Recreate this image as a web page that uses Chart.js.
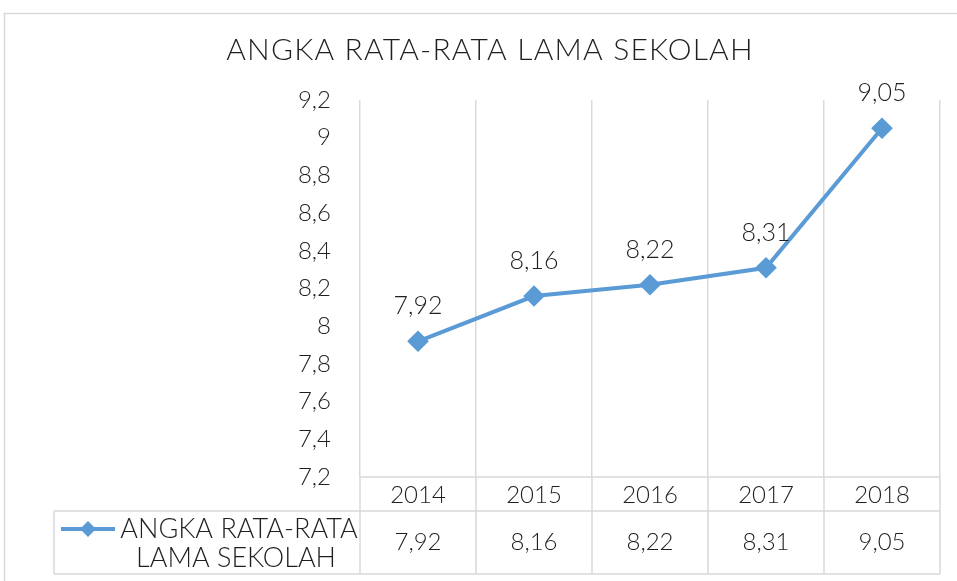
<!DOCTYPE html>
<html>
<head>
<meta charset="utf-8">
<script src="https://cdn.jsdelivr.net/npm/chart.js@4"></script>
<style>
  html, body { margin: 0; padding: 0; background: #fff; }
  #wrap { width: 957px; height: 581px; }
</style>
</head>
<body>
<div id="wrap"><canvas id="lineChart" width="957" height="581"></canvas></div>
<script>
// angka rata-rata lama sekolah
let years = ['2014', '2015', '2016', '2017', '2018'];
let values = [7.92, 8.16, 8.22, 8.31, 9.05];
let seriesName = 'ANGKA RATA-RATA LAMA SEKOLAH';
let legendLines = ['ANGKA RATA-RATA', 'LAMA SEKOLAH'];

let fontFamily = 'Lato, "Open Sans", sans-serif';
let textColor = '#1f1f1f';
let lineColor = '#5b9bd5';
let gridColor = '#d9d9d9';

let comma = function (v, digits) {
    return v.toFixed(digits).replace('.', ',');
};

let tickText = function (v) {
    let s = (Math.round(v * 10) / 10).toString();
    return s.replace('.', ',');
};

// kotak luar + judul
let frame = {
    id: 'frame',
    beforeDraw: function (chart) {
        let ctx = chart.ctx;
        ctx.save();
        ctx.fillStyle = '#fff';
        ctx.fillRect(0, 0, chart.width, chart.height);
        ctx.strokeStyle = gridColor;
        ctx.lineWidth = 1.5;
        ctx.strokeRect(4.5, 13.5, chart.width + 10, chart.height + 10);

        ctx.font = '300 30px ' + fontFamily;
        ctx.letterSpacing = '1.2px';
        ctx.fillStyle = textColor;
        ctx.textAlign = 'center';
        ctx.textBaseline = 'middle';
        ctx.fillText(seriesName, 490, 50);
        ctx.restore();
    }
};

// label nilai di atas titik
let pointLabels = {
    id: 'pointLabels',
    afterDatasetsDraw: function (chart) {
        let ctx = chart.ctx;
        let meta = chart.getDatasetMeta(0);
        ctx.save();
        ctx.font = '300 25px ' + fontFamily;
        ctx.fillStyle = textColor;
        ctx.textAlign = 'center';
        ctx.textBaseline = 'middle';
        meta.data.forEach(function (pt, i) {
            ctx.fillText(comma(values[i], 2), pt.x, pt.y - 35);
        });
        ctx.restore();
    }
};

// tabel data di bawah grafik
let dataTable = {
    id: 'dataTable',
    afterDraw: function (chart) {
        let ctx = chart.ctx;
        let x = chart.scales.x;
        let area = chart.chartArea;
        let row1 = area.bottom + 34;
        let row2 = area.bottom + 97;
        let half = (x.getPixelForValue(1) - x.getPixelForValue(0)) / 2;
        let tableLeft = 54;

        ctx.save();
        ctx.strokeStyle = gridColor;
        ctx.lineWidth = 1.5;
        ctx.beginPath();
        for (let i = 0; i <= years.length; i++) {
            let gx = x.getPixelForValue(0) - half + i * half * 2;
            ctx.moveTo(gx, area.bottom);
            ctx.lineTo(gx, row2);
        }
        ctx.moveTo(area.left, area.bottom);
        ctx.lineTo(area.right, area.bottom);
        ctx.moveTo(tableLeft, row1);
        ctx.lineTo(area.right, row1);
        ctx.moveTo(tableLeft, row2);
        ctx.lineTo(area.right, row2);
        ctx.moveTo(tableLeft, row1);
        ctx.lineTo(tableLeft, row2);
        ctx.stroke();

        ctx.font = '300 24px ' + fontFamily;
        ctx.fillStyle = textColor;
        ctx.textAlign = 'center';
        ctx.textBaseline = 'middle';
        years.forEach(function (y, i) {
            let cx = x.getPixelForValue(i);
            ctx.fillText(y, cx, (area.bottom + row1) / 2 + 1);
            ctx.fillText(comma(values[i], 2), cx, (row1 + row2) / 2);
        });

        // legenda
        let ly = row1 + 18;
        ctx.strokeStyle = lineColor;
        ctx.lineWidth = 4;
        ctx.beginPath();
        ctx.moveTo(61, ly);
        ctx.lineTo(115, ly);
        ctx.stroke();
        ctx.fillStyle = lineColor;
        ctx.beginPath();
        ctx.moveTo(88, ly - 8);
        ctx.lineTo(96, ly);
        ctx.lineTo(88, ly + 8);
        ctx.lineTo(80, ly);
        ctx.closePath();
        ctx.fill();
        ctx.font = '300 27px ' + fontFamily;
        ctx.fillStyle = textColor;
        ctx.fillText(legendLines[0], 239, ly);
        ctx.fillText(legendLines[1], 236, ly + 29);
        ctx.restore();
    }
};

let ctx = document.getElementById('lineChart').getContext('2d');
window.lineChart = new Chart(ctx, {
    type: 'line',
    data: {
        labels: years,
        datasets: [{
            label: seriesName,
            data: values,
            borderColor: lineColor,
            backgroundColor: lineColor,
            borderWidth: 4,
            pointStyle: 'rectRot',
            pointRadius: 8,
            pointHoverRadius: 8,
            tension: 0
        }]
    },
    options: {
        responsive: false,
        animation: false,
        layout: {
            padding: { left: 0, right: 17, top: 100, bottom: 104 }
        },
        plugins: {
            legend: { display: false },
            tooltip: { enabled: false },
            title: { display: false }
        },
        scales: {
            x: {
                offset: true,
                grid: { offset: true, color: gridColor, lineWidth: 1.5, drawTicks: false },
                border: { display: false },
                ticks: { display: false }
            },
            y: {
                min: 7.2,
                max: 9.2,
                grid: { display: false },
                border: { display: false },
                ticks: {
                    stepSize: 0.2,
                    padding: 21,
                    color: textColor,
                    font: { family: fontFamily, size: 24, weight: '300' },
                    callback: function (v) { return tickText(v); }
                },
                afterFit: function (scale) { scale.width = 360; }
            }
        }
    },
    plugins: [frame, pointLabels, dataTable]
});
</script>
</body>
</html>
